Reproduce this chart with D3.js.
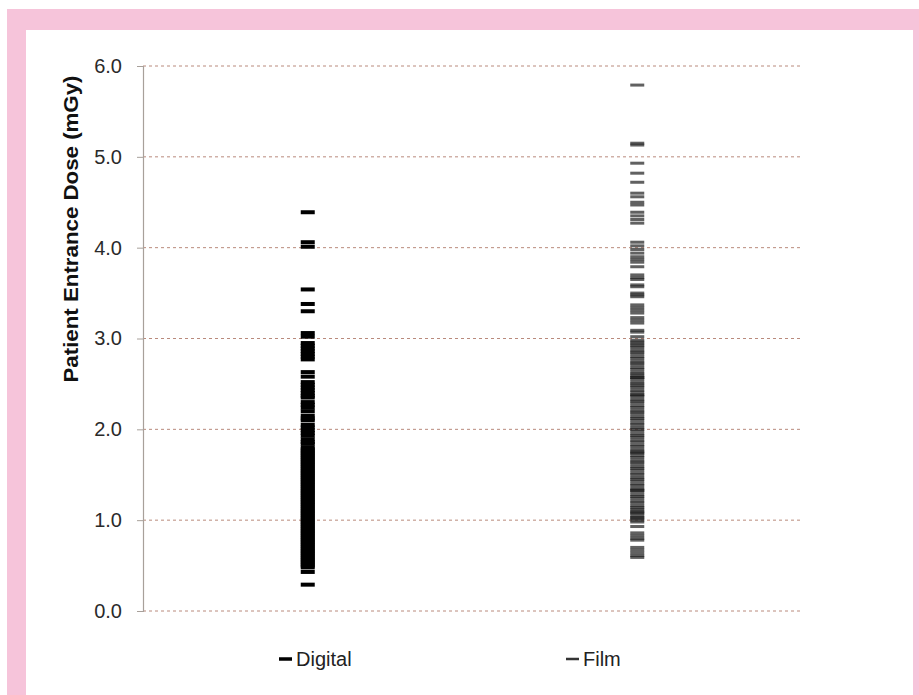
<!DOCTYPE html>
<html>
<head>
<meta charset="utf-8">
<script src="https://cdn.jsdelivr.net/npm/d3@7"></script>
<style>
  html, body { margin: 0; padding: 0; background: #fff; }
  svg { display: block; }
  text { font-family: "Liberation Sans", Arial, sans-serif; }
</style>
</head>
<body>
<svg id="chart" width="919" height="695"></svg>
<script>
// Patient entrance dose (mGy) per examination, by imaging modality
const categories = ["Digital", "Film"];

const digitalDose = [
  4.39, 4.06, 4.01, 3.54, 3.38, 3.30, 3.06, 3.02,
  2.95, 2.92, 2.89, 2.86, 2.83, 2.80, 2.77,
  2.63, 2.58, 2.52, 2.49, 2.46, 2.43, 2.40, 2.37, 2.35,
  2.30, 2.27, 2.24, 2.20, 2.15, 2.12, 2.10, 2.05, 2.02, 1.99, 1.96, 1.93,
  1.89, 1.86, 1.84,
  1.80, 1.78, 1.76, 1.74, 1.72, 1.70, 1.68, 1.66, 1.64, 1.62, 1.60,
  1.58, 1.56, 1.54, 1.52, 1.50, 1.48, 1.46, 1.44, 1.42, 1.40,
  1.38, 1.36, 1.34, 1.32, 1.30, 1.28, 1.26, 1.24, 1.22, 1.20,
  1.18, 1.16, 1.14, 1.12, 1.10, 1.08, 1.06, 1.04, 1.02, 1.00,
  0.98, 0.96, 0.94, 0.92, 0.90, 0.88, 0.86, 0.84, 0.82, 0.80,
  0.78, 0.76, 0.74, 0.72, 0.70, 0.68, 0.66, 0.64, 0.62, 0.60,
  0.58, 0.56, 0.54, 0.52, 0.50, 0.48,
  0.43, 0.29
];

const filmDose = [
  5.79, 5.15, 5.13, 4.93, 4.82, 4.72, 4.60, 4.56, 4.50, 4.47,
  4.39, 4.35, 4.31, 4.27,
  4.06, 4.02, 3.98, 3.94, 3.90, 3.87, 3.84, 3.79,
  3.70, 3.67, 3.65, 3.59, 3.57, 3.50, 3.48, 3.46,
  3.37, 3.34, 3.31, 3.28, 3.23, 3.20, 3.17, 3.09, 3.07, 3.02,
  2.98, 2.96, 2.94, 2.92, 2.90, 2.87, 2.85, 2.83, 2.80, 2.78,
  2.75, 2.73, 2.71, 2.68, 2.66, 2.63, 2.61, 2.59, 2.57, 2.57,
  2.55, 2.52, 2.50, 2.48, 2.46, 2.43, 2.41, 2.38, 2.38, 2.36,
  2.33, 2.31, 2.29, 2.26, 2.24, 2.21, 2.19, 2.17, 2.14, 2.12,
  2.10, 2.07, 2.05, 2.02, 2.00, 1.98, 1.95, 1.93, 1.91, 1.88,
  1.86, 1.83, 1.81, 1.78, 1.76, 1.74, 1.74, 1.71, 1.69, 1.66,
  1.64, 1.62, 1.59, 1.57, 1.55, 1.52, 1.50, 1.47, 1.45, 1.43,
  1.40, 1.38, 1.35, 1.33, 1.33, 1.31, 1.28, 1.26, 1.24, 1.21,
  1.19, 1.16, 1.14, 1.12, 1.10, 1.08, 1.08, 1.05, 1.03, 1.02,
  1.00, 0.98, 0.93,
  0.86, 0.83, 0.80, 0.78,
  0.70, 0.67, 0.64, 0.61, 0.59
];

const yTicks = [0, 1, 2, 3, 4, 5, 6];
const yTickLabels = ["0.0", "1.0", "2.0", "3.0", "4.0", "5.0", "6.0"];
const yTitle = "Patient Entrance Dose (mGy)";

const svg = d3.select("#chart");

// page frame: pink border around a white panel
svg.append("rect").attr("x", 7).attr("y", 9).attr("width", 912).attr("height", 686)
  .attr("fill", "#f6c4da");
svg.append("rect").attr("x", 26).attr("y", 30).attr("width", 887).attr("height", 665)
  .attr("fill", "#ffffff");

const plot = { left: 143, right: 802, top: 66, bottom: 611 };

const y = d3.scaleLinear().domain([0, 6]).range([plot.bottom, plot.top]);
const x = d3.scalePoint().domain(categories).range([plot.left, plot.right]).padding(0.5);

// dotted horizontal gridlines
svg.append("g")
  .selectAll("line")
  .data(yTicks)
  .join("line")
  .attr("x1", plot.left).attr("x2", plot.right)
  .attr("y1", d => y(d)).attr("y2", d => y(d))
  .attr("stroke", "#b98a7c")
  .attr("stroke-width", 1)
  .attr("stroke-dasharray", "3,3");

// y axis
const yAxis = d3.axisLeft(y)
  .tickValues(yTicks)
  .tickFormat((d, i) => yTickLabels[i])
  .tickSize(6)
  .tickPadding(15);

const gy = svg.append("g")
  .attr("transform", `translate(${plot.left},0)`)
  .call(yAxis);
gy.select(".domain").attr("stroke", "#a8a09a").attr("stroke-width", 1.2);
gy.selectAll(".tick line").attr("stroke", "#a8a09a");
gy.selectAll(".tick text")
  .attr("fill", "#2a2a2a")
  .style("font-size", "20px")
  .style("font-family", "'Liberation Sans', Arial, sans-serif");

// y axis title
svg.append("text")
  .attr("transform", `translate(78,${229}) rotate(-90)`)
  .attr("text-anchor", "middle")
  .attr("fill", "#111")
  .style("font-size", "20px")
  .style("font-weight", "bold")
  .attr("textLength", 307)
  .attr("lengthAdjust", "spacingAndGlyphs")
  .text(yTitle);

// dash markers
const dashW = 14;
svg.append("g")
  .selectAll("rect")
  .data(digitalDose)
  .join("rect")
  .attr("x", x("Digital") - dashW / 2)
  .attr("y", d => y(d) - 2)
  .attr("width", dashW)
  .attr("height", 4)
  .attr("fill", "#000");

svg.append("g")
  .selectAll("rect")
  .data(filmDose)
  .join("rect")
  .attr("x", x("Film") - dashW / 2)
  .attr("y", d => y(d) - 1.5)
  .attr("width", dashW)
  .attr("height", 3)
  .attr("fill", "#1e1e1e")
  .attr("fill-opacity", 0.7);

// legend
const legendY = 659;
const legend = [
  { name: "Digital", dx: 285, thick: 3.5, color: "#000", op: 1 },
  { name: "Film", dx: 572, thick: 2.5, color: "#1e1e1e", op: 0.9 }
];
const lg = svg.append("g").selectAll("g").data(legend).join("g");
lg.append("rect")
  .attr("x", d => d.dx - 6)
  .attr("y", d => legendY - d.thick / 2)
  .attr("width", 13)
  .attr("height", d => d.thick)
  .attr("fill", d => d.color)
  .attr("fill-opacity", d => d.op);
lg.append("text")
  .attr("x", d => d.dx + 11)
  .attr("y", legendY + 7)
  .attr("fill", "#222")
  .style("font-size", "20px")
  .text(d => d.name);
</script>
</body>
</html>
